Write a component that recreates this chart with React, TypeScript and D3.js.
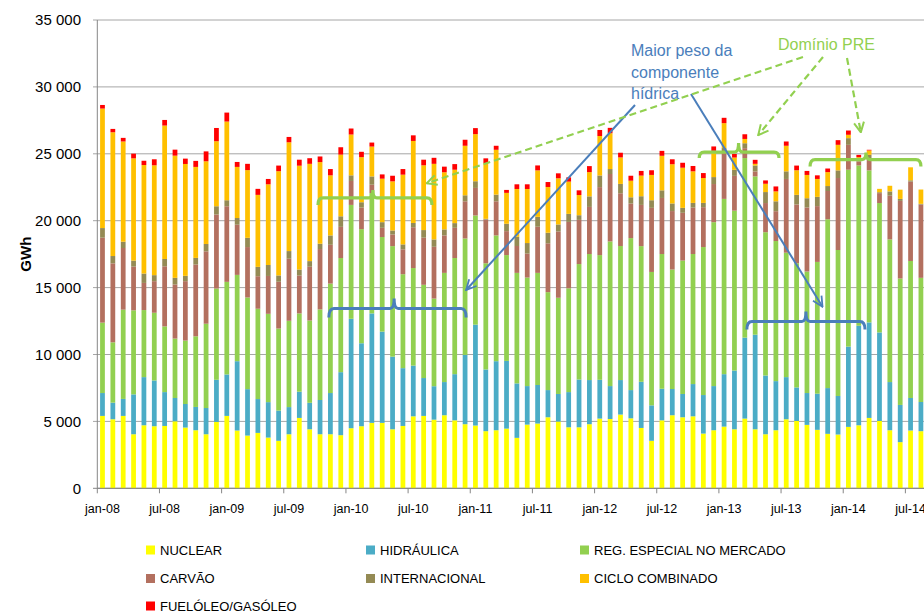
import React from "react";
import * as d3 from "d3";

const categories = [
  "jan-08","fev-08","mar-08","abr-08","mai-08","jun-08","jul-08","ago-08","set-08","out-08","nov-08","dez-08",
  "jan-09","fev-09","mar-09","abr-09","mai-09","jun-09","jul-09","ago-09","set-09","out-09","nov-09","dez-09",
  "jan-10","fev-10","mar-10","abr-10","mai-10","jun-10","jul-10","ago-10","set-10","out-10","nov-10","dez-10",
  "jan-11","fev-11","mar-11","abr-11","mai-11","jun-11","jul-11","ago-11","set-11","out-11","nov-11","dez-11",
  "jan-12","fev-12","mar-12","abr-12","mai-12","jun-12","jul-12","ago-12","set-12","out-12","nov-12","dez-12",
  "jan-13","fev-13","mar-13","abr-13","mai-13","jun-13","jul-13","ago-13","set-13","out-13","nov-13","dez-13",
  "jan-14","fev-14","mar-14","abr-14","mai-14","jun-14","jul-14","ago-14",
];

const tickLabels = [
  "jan-08","jul-08","jan-09","jul-09","jan-10","jul-10","jan-11",
  "jul-11","jan-12","jul-12","jan-13","jul-13","jan-14","jul-14",
];

const yTicks = [0, 5000, 10000, 15000, 20000, 25000, 30000, 35000];

// GWh per month
const nuclear = [
  5410,5160,5410,4040,4710,4640,4660,5010,4540,4340,4040,4960,
  5410,4320,3940,4140,3790,3550,4040,5260,4410,4040,4040,3970,
  4490,4640,4890,4890,4410,4660,5380,5410,5130,5460,5080,4790,
  4690,4270,4340,4460,3770,4760,4840,5310,4990,4560,4560,4790,
  5210,5180,5510,5230,4510,3550,5080,5460,5310,5380,4090,4340,
  4610,4410,5210,4410,4040,4340,5160,5030,4740,4370,4070,4020,
  4590,4710,5260,5030,4340,3450,4320,4270,
];
const hidraulica = [
  1710,1240,1270,2980,3600,3420,2530,1740,1760,1740,1960,3150,
  3100,5180,3470,2530,2650,2260,2030,1960,1980,2560,3080,4710,
  8180,6200,8180,6820,5430,4320,3790,2830,2500,2480,3450,5180,
  7540,4610,5160,5060,4070,2880,2880,2030,2060,2630,3570,3300,
  2900,2460,2580,2110,3450,2650,2360,1960,1740,2410,2880,3300,
  3920,4390,6050,7070,4390,3670,3150,2510,2380,2700,3420,2880,
  6000,7440,7140,6620,3600,2780,2430,2180,
];
const pre = [
  5260,4510,6670,6280,5010,5060,4910,4440,4740,5280,6300,6820,
  6920,6450,6850,6750,6600,6130,6450,5850,6150,6770,8180,8530,
  8510,8530,9000,7070,8260,7020,7290,6970,6550,8160,8680,8700,
  8160,7940,9400,7910,8260,8110,8380,7320,7190,7760,8630,9420,
  9320,10810,10020,11360,10140,9970,10070,8930,9970,9720,11060,12250,
  13100,11950,13420,11830,10710,10470,9300,9280,9080,9850,12620,10910,
  13220,11980,11360,9670,10660,9450,10240,9280,
];
const carvao = [
  6350,5900,4610,3270,2030,2360,4490,4040,4440,5360,5410,5530,
  5650,3750,3770,2430,2830,3500,4640,2830,4020,4510,2900,2330,
  1790,1610,620,690,870,1860,3050,3520,3870,2800,2260,2780,
  2060,3270,2550,1790,2010,1790,3450,3650,4960,4960,3300,3520,
  5080,5040,3940,2580,3080,4790,4190,4370,3570,3470,2980,2850,
  3550,2600,740,370,2180,2230,5510,4390,4790,4170,2110,5380,
  1860,300,920,740,3270,5800,5930,5480,
];
const internacional = [
  720,550,470,450,700,450,550,500,400,500,550,620,
  450,500,690,700,820,470,570,450,420,400,700,790,
  420,400,620,420,300,370,320,570,550,450,350,450,
  500,50,500,550,690,790,740,790,520,600,350,790,
  870,370,700,470,650,570,570,570,370,350,320,520,
  250,450,370,450,820,740,570,720,690,690,370,570,
  500,120,250,70,320,150,100,50,
];
const cicloCombinado = [
  8930,9250,7490,7640,8110,8210,9970,9130,8360,6800,6180,4860,
  5880,3820,5060,5380,6030,7790,8130,7760,7270,6100,4490,4610,
  3050,3370,2230,3250,3670,5210,6130,4840,5650,4270,3990,3700,
  3520,4170,3350,2310,3570,4040,3470,3420,3450,2410,1510,1810,
  2950,2680,1980,1240,1540,1890,2580,2930,3000,2360,1860,1960,
  1860,920,320,120,620,740,1910,1840,1740,1340,1040,1910,
  250,200,320,250,420,690,970,1070,
];
const fuelGasoleo = [
  270,250,270,350,320,450,420,450,400,450,740,990,
  670,370,470,450,400,420,400,450,420,420,470,550,
  450,400,300,320,420,420,420,420,450,420,420,450,
  450,350,300,220,350,350,370,370,370,320,350,450,
  450,400,350,370,350,350,370,370,370,400,370,330,
  400,270,350,300,250,370,320,350,300,270,270,350,
  320,170,50,0,0,0,0,0,
];

const seriesNames = [
  "NUCLEAR","HIDRÁULICA","REG. ESPECIAL NO MERCADO","CARVÃO",
  "INTERNACIONAL","CICLO COMBINADO","FUELÓLEO/GASÓLEO",
];
const seriesColors = ["#FFFF00","#4BACC6","#92D050","#B3705F","#948A54","#FFC000","#FF0000"];
const seriesData = [nuclear, hidraulica, pre, carvao, internacional, cicloCombinado, fuelGasoleo];

const FONT = "'Liberation Sans', Arial, sans-serif";
const BLUE = "#4A7EBB";
const GREEN = "#92D050";

export default function App() {
  const W = 924, H = 612;
  const left = 97.3, step = 10.36;
  const x = d3.scaleBand<string>()
    .domain(categories)
    .range([left, left + step * categories.length])
    .paddingInner(0.54)
    .paddingOuter(0.27);
  const y = d3.scaleLinear().domain([0, 35000]).range([488.3, 20]);
  const bx = (i: number) => left + i * x.step();

  const rows = categories.map((c, i) => {
    const r: any = { cat: c };
    seriesNames.forEach((s, k) => (r[s] = seriesData[k][i]));
    return r;
  });
  const stacked = d3.stack<any>().keys(seriesNames)(rows);
  const fmt = d3.formatLocale({ decimal: ",", thousands: " ", grouping: [3], currency: ["", "€"] }).format(",d");

  const brace = (i1: number, i2: number, im: number, v: number, up: number, down: number) => {
    const x1 = bx(i1), x2 = bx(i2), xm = bx(im), yy = y(v);
    const p = d3.path();
    p.moveTo(x1, yy + down);
    p.quadraticCurveTo(x1, yy, x1 + 5, yy);
    p.lineTo(xm - 4, yy);
    p.quadraticCurveTo(xm, yy, xm, yy - up);
    p.quadraticCurveTo(xm, yy, xm + 4, yy);
    p.lineTo(x2 - 5, yy);
    p.quadraticCurveTo(x2, yy, x2, yy + down);
    return p.toString();
  };

  const legendCols = [146, 366, 580];
  const legendRows = [550, 578.5, 606];

  return (
    <div style={{ position: "absolute", left: 0, top: 0, width: W, height: H }}>
      <svg width={W} height={H} style={{ display: "block", overflow: "hidden" }} fontFamily={FONT}>
        <defs>
          <marker id="arrB" viewBox="0 0 12 12" refX="11" refY="6" markerWidth="12" markerHeight="12"
            markerUnits="userSpaceOnUse" orient="auto">
            <path d="M1,1 L11,6 L1,11" fill="none" stroke={BLUE} strokeWidth={1.8} />
          </marker>
          <marker id="arrG" viewBox="0 0 12 12" refX="11" refY="6" markerWidth="12" markerHeight="12"
            markerUnits="userSpaceOnUse" orient="auto">
            <path d="M1,1 L11,6 L1,11" fill="none" stroke={GREEN} strokeWidth={2} />
          </marker>
        </defs>
        <rect width={W} height={H} fill="#fff" />
        {/* gridlines */}
        {yTicks.map((t) => (
          <line key={"g" + t} x1={93} x2={W} y1={y(t)} y2={y(t)}
            stroke={t === 0 ? "#868686" : "#A6A6A6"} strokeWidth={1} />
        ))}
        {/* bars */}
        {stacked.map((layer, k) => (
          <g key={layer.key} fill={seriesColors[k]}>
            {layer.map((d, i) => (
              <rect key={i} x={x(categories[i])} width={x.bandwidth()}
                y={y(d[1])} height={Math.max(0, y(d[0]) - y(d[1]))} />
            ))}
          </g>
        ))}
        {/* axes */}
        <line x1={left} x2={left} y1={y(35000)} y2={y(0)} stroke="#868686" strokeWidth={1} />
        <line x1={left} x2={W} y1={y(0)} y2={y(0)} stroke="#868686" strokeWidth={1} />
        {yTicks.map((t) => (
          <text key={"yl" + t} x={81} y={y(t) + 5.2} textAnchor="end" fontSize={15} fill="#000">
            {fmt(t)}
          </text>
        ))}
        {tickLabels.map((lab) => {
          const i = categories.indexOf(lab);
          return (
            <g key={lab}>
              <line x1={bx(i)} x2={bx(i)} y1={y(0)} y2={y(0) + 5} stroke="#868686" />
              <text x={(x(lab) as number) + x.bandwidth() / 2} y={513} textAnchor="middle" fontSize={12.5} fill="#000">
                {lab}
              </text>
            </g>
          );
        })}
        <text transform={`translate(31,${y(17500)}) rotate(-90)`} textAnchor="middle" fontSize={15}
          fontWeight="bold" fill="#000">GWh</text>

        {/* braces */}
        <path d={brace(21.3, 32.3, 26.6, 21700, 8, 7)} fill="none" stroke={GREEN} strokeWidth={3.2} />
        <path d={brace(22.35, 35.6, 28.65, 13440, 10, 9)} fill="none" stroke={BLUE} strokeWidth={3} />
        <path d={brace(58.1, 65.8, 61.9, 25130, 9, 6)} fill="none" stroke={GREEN} strokeWidth={3.2} />
        <path d={brace(68.8, 79.5, 74.2, 24570, 7, 7)} fill="none" stroke={GREEN} strokeWidth={3.2} />
        <path d={brace(62.7, 74.1, 68.4, 12470, 10, 8)} fill="none" stroke={BLUE} strokeWidth={3} />

        {/* arrows */}
        <line x1={635} y1={105} x2={bx(35.6)} y2={y(14820)} stroke={BLUE} strokeWidth={2} markerEnd="url(#arrB)" />
        <line x1={691} y1={94} x2={bx(70)} y2={y(13570)} stroke={BLUE} strokeWidth={2} markerEnd="url(#arrB)" />
        <line x1={803} y1={57} x2={bx(31.8)} y2={y(22800)} stroke={GREEN} strokeWidth={2.2}
          strokeDasharray="7 4" markerEnd="url(#arrG)" />
        <line x1={823} y1={57} x2={bx(63.8)} y2={y(26400)} stroke={GREEN} strokeWidth={2.2}
          strokeDasharray="7 4" markerEnd="url(#arrG)" />
        <line x1={847} y1={58} x2={bx(73.7)} y2={y(26600)} stroke={GREEN} strokeWidth={2.2}
          strokeDasharray="7 4" markerEnd="url(#arrG)" />

        {/* annotation texts */}
        <text fontSize={16} fill={BLUE}>
          <tspan x={631} y={55.5}>Maior peso da</tspan>
          <tspan x={631} y={77.5}>componente</tspan>
          <tspan x={631} y={98.5}>hídrica</tspan>
        </text>
        <text x={778} y={50} fontSize={16} fill={GREEN}>Domínio PRE</text>

        {/* legend */}
        {seriesNames.map((s, k) => {
          const cx = legendCols[k % 3], cy = legendRows[Math.floor(k / 3)];
          return (
            <g key={"lg" + s}>
              <rect x={cx} y={cy - 4.5} width={9} height={9} fill={seriesColors[k]} />
              <text x={cx + 14} y={cy + 4.6} fontSize={13} fill="#000">{s}</text>
            </g>
          );
        })}
      </svg>
    </div>
  );
}
